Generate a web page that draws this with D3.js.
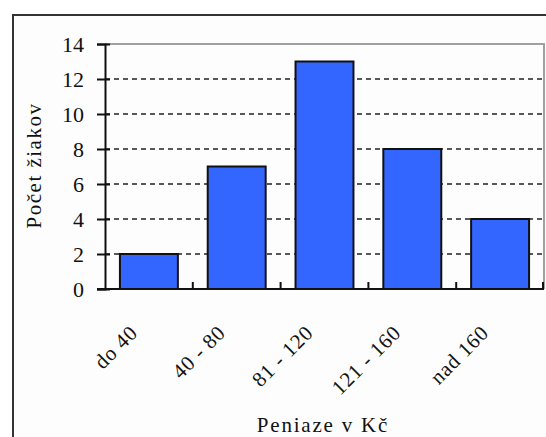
<!DOCTYPE html>
<html>
<head>
<meta charset="utf-8">
<script src="https://cdn.jsdelivr.net/npm/d3@7"></script>
<style>
  html, body { margin: 0; padding: 0; background: #ffffff; }
  svg { display: block; }
  text { font-family: "Liberation Serif", "Times New Roman", serif; fill: #111; }
</style>
</head>
<body>
<svg id="chart" width="546" height="437"></svg>
<script>
// Histogram of pocket money: number of pupils per money range
const categories = ["do 40", "40 - 80", "81 - 120", "121 - 160", "nad 160"];
const counts = [2, 7, 13, 8, 4];
const yTicks = [0, 2, 4, 6, 8, 10, 12, 14];
const yTitle = "Počet žiakov";
const xTitle = "Peniaze v Kč";

const serif = "'Liberation Serif', 'Times New Roman', serif";
const svg = d3.select("#chart");

// outer chart frame (runs past the right and bottom edges)
svg.append("rect")
  .attr("x", 13).attr("y", 15)
  .attr("width", 560).attr("height", 460)
  .attr("fill", "#fdfdfd")
  .attr("stroke", "#333").attr("stroke-width", 2);

const plot = { left: 105, right: 544, top: 44, bottom: 289 };

const x = d3.scaleBand()
  .domain(categories)
  .range([plot.left, plot.right])
  .paddingInner(0.34)
  .paddingOuter(0.17);

const y = d3.scaleLinear()
  .domain([0, 14])
  .range([plot.bottom, plot.top]);

// plot area border (top and right, gray)
svg.append("path")
  .attr("d", `M${plot.left},${y(14)}H${plot.right}V${plot.bottom}`)
  .attr("fill", "none")
  .attr("stroke", "#a0a0a0").attr("stroke-width", 2);

// dashed horizontal gridlines
svg.append("g")
  .selectAll("line")
  .data(yTicks.filter(t => t > 0 && t < 14))
  .join("line")
  .attr("x1", plot.left).attr("x2", plot.right)
  .attr("y1", d => y(d)).attr("y2", d => y(d))
  .attr("stroke", "#222").attr("stroke-width", 1.6)
  .attr("stroke-dasharray", "5,4");

// bars
svg.append("g")
  .selectAll("rect")
  .data(counts)
  .join("rect")
  .attr("x", (d, i) => x(categories[i]))
  .attr("y", d => y(d))
  .attr("width", x.bandwidth())
  .attr("height", d => y(0) - y(d))
  .attr("fill", "#3366ff")
  .attr("stroke", "#111").attr("stroke-width", 2);

// y axis with crossing ticks
const yAxis = d3.axisLeft(y)
  .tickValues(yTicks)
  .tickSize(8)
  .tickPadding(13)
  .tickFormat(d3.format("d"));

const gy = svg.append("g")
  .attr("transform", `translate(${plot.left},0)`)
  .call(yAxis)
  .attr("font-family", serif);
gy.select(".domain").attr("stroke", "#111").attr("stroke-width", 2);
gy.selectAll(".tick line").attr("x1", 5).attr("x2", -8)
  .attr("stroke", "#111").attr("stroke-width", 2);
gy.selectAll(".tick text")
  .attr("font-size", 22)
  .attr("fill", "#111");

// x axis: line with small inward ticks between categories
const step = x.step();
const boundaries = categories.map(c => x(c) - x.paddingInner() * step / 2).slice(1);
svg.append("line")
  .attr("x1", plot.left - 8).attr("x2", plot.right)
  .attr("y1", y(0)).attr("y2", y(0))
  .attr("stroke", "#111").attr("stroke-width", 2);
svg.append("g")
  .selectAll("line")
  .data(boundaries.concat([plot.right - 1]))
  .join("line")
  .attr("x1", d => d).attr("x2", d => d)
  .attr("y1", y(0)).attr("y2", y(0) - 7)
  .attr("stroke", "#111").attr("stroke-width", 2);

// rotated category labels
svg.append("g")
  .selectAll("text")
  .data(categories)
  .join("text")
  .attr("transform", d => `translate(${x(d) + x.bandwidth() / 2 - 10},${y(0) + 45}) rotate(-45)`)
  .attr("text-anchor", "end")
  .attr("font-size", 21)
  .attr("letter-spacing", 0.8)
  .text(d => d);

// axis titles
svg.append("text")
  .attr("transform", `translate(41,${(plot.top + plot.bottom) / 2 - 1}) rotate(-90)`)
  .attr("text-anchor", "middle")
  .attr("font-size", 21)
  .attr("letter-spacing", 1.5)
  .text(yTitle);

svg.append("text")
  .attr("x", 323).attr("y", 432)
  .attr("text-anchor", "middle")
  .attr("font-size", 21)
  .attr("letter-spacing", 1.8)
  .text(xTitle);
</script>
</body>
</html>
